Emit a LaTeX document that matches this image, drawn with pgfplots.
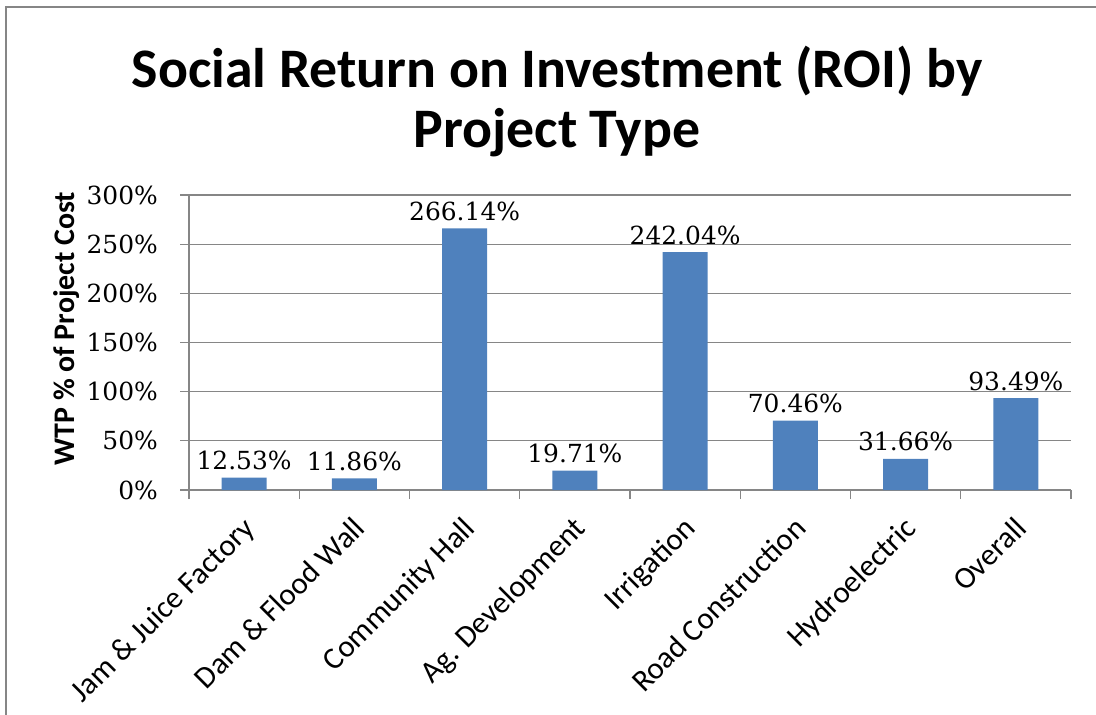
\documentclass[border=0pt]{standalone}
\usepackage{pgfplots}
\pgfplotsset{compat=1.18}
\usepackage{fontspec}
\setmainfont{Carlito}
\newfontfamily\numfont{DejaVu Serif}
\definecolor{barblue}{HTML}{4F81BD}
\definecolor{gridgray}{HTML}{868686}
\begin{document}
\begin{tikzpicture}[x=1bp,y=1bp]
\path[use as bounding box] (0,-715) rectangle (1096,0);
\draw[gridgray, line width=1.5bp] (6,-715) -- (6,-7) -- (1096,-7);
\node[anchor=base, font=\fontsize{56}{60}\selectfont\bfseries] at (557,-88) {Social Return on Investment (ROI) by};
\node[anchor=base, font=\fontsize{56}{60}\selectfont\bfseries] at (557,-148) {Project Type};
\begin{axis}[
    at={(189bp,-490bp)}, anchor=south west,
    scale only axis,
    width=882bp, height=295bp,
    xmin=-0.5, xmax=7.5,
    ymin=0, ymax=300,
    axis lines*=left,
    axis line style={gridgray, line width=1.2bp},
    ytick={0,50,...,300},
    yticklabel={\pgfmathprintnumber{\tick}\%},
    /pgf/number format/assume math mode=true,
    yticklabel style={font=\fontsize{25}{28}\selectfont\numfont, inner sep=0bp, xshift=-22bp},
    ymajorgrids,
    grid style={gridgray, line width=1.2bp},
    xtick={0,...,7},
    xticklabels={Jam \& Juice Factory, Dam \& Flood Wall, Community Hall, Ag. Development, Irrigation, Road Construction, Hydroelectric, Overall},
    xticklabel style={font=\fontsize{31}{34}\selectfont, xshift=-3bp, yshift=-13bp, rotate=45, anchor=north east, inner sep=2bp},
    minor xtick={-0.5,0.5,...,7.5},
    tick align=outside,
    major tick length=9bp,
    minor tick length=9bp,
    x tick style={draw=none},
    minor x tick style={draw=gridgray, line width=1.2bp},
    y tick style={gridgray, line width=1.2bp},
    ylabel={\bfseries WTP \% of Project Cost},
    ylabel style={font=\fontsize{30}{32}\selectfont, at={(axis description cs:0,0.5)}, anchor=center, yshift=122bp, xshift=14bp},
    ybar, bar width=45bp,
    nodes near coords={\pgfmathprintnumber[fixed,fixed zerofill,precision=2]{\pgfplotspointmeta}\%},
    every node near coord/.append style={font=\fontsize{25}{28}\selectfont\numfont, anchor=base, yshift=8bp, black},
]
\addplot[fill=barblue, draw=none] coordinates {
(0,12.53) (1,11.86) (2,266.14) (3,19.71) (4,242.04) (5,70.46) (6,31.66) (7,93.49)
};
\end{axis}
\end{tikzpicture}
\end{document}
